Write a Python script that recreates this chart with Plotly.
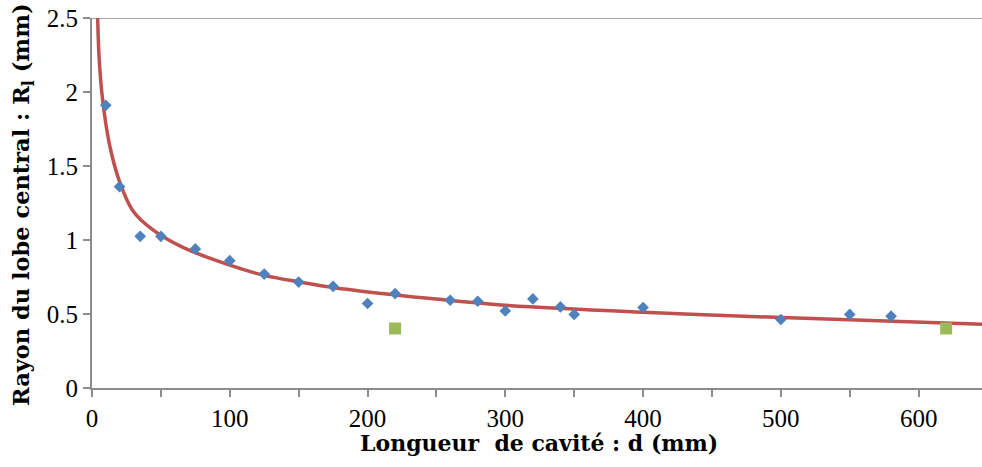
import plotly.graph_objects as go

# Measured points (blue diamonds)
d_mes = [10, 20, 35, 50, 75, 100, 125, 150, 175, 200, 220, 260, 280, 300, 320, 340, 350, 400, 500, 550, 580]
r_mes = [1.91, 1.36, 1.025, 1.025, 0.94, 0.86, 0.77, 0.716, 0.687, 0.571, 0.638, 0.593, 0.586, 0.521, 0.602, 0.548, 0.497, 0.544, 0.463, 0.497, 0.485]

# Second series (green squares)
d_sq = [220, 620]
r_sq = [0.402, 0.402]

# Fitted trend curve
d_fit = [4.1, 5.3, 7.8, 12.6, 19.8, 29.5, 44, 66, 100, 125, 151, 176, 222, 246, 297, 400, 501, 646]
r_fit = [2.50, 2.21, 1.94, 1.65, 1.40, 1.20, 1.07, 0.95, 0.83, 0.761, 0.716, 0.678, 0.627, 0.604, 0.561, 0.512, 0.476, 0.431]

x_ticks = [0, 100, 200, 300, 400, 500, 600]
y_ticks = [0, 0.5, 1, 1.5, 2, 2.5]
y_tick_text = ["0", "0.5", "1", "1.5", "2", "2.5"]

x_title = "<b>Longueur  de cavité : d (mm)</b>"
y_title = "<b>Rayon du lobe central : R<sub>l</sub> (mm)</b>"

axis_grey = "#8C8C8C"
fam = "Liberation Serif"
title_fam = "DejaVu Serif"

L, R, T, B = 92, 0, 18, 79
W, H = 982, 467
pw, ph = W - L - R, H - T - B

fig = go.Figure()
fig.add_trace(go.Scatter(x=d_fit, y=r_fit, mode="lines", line=dict(color="#C0504D", width=3.5, shape="spline", smoothing=1.0), showlegend=False))
fig.add_trace(go.Scatter(x=d_mes, y=r_mes, mode="markers", marker=dict(symbol="diamond", size=9, color="#4F81BD"), showlegend=False))
fig.add_trace(go.Scatter(x=d_sq, y=r_sq, mode="markers", marker=dict(symbol="square", size=12, color="#9BBB59"), showlegend=False))

fig.add_shape(type="line", xref="paper", yref="y", x0=0, x1=1, y0=2.5, y1=2.5, line=dict(color="#A6A6A6", width=2), layer="below")

fig.add_annotation(text=x_title, xref="paper", yref="paper", x=(539 - L) / pw, y=(H - B - 443) / ph,
                   xanchor="center", yanchor="middle", showarrow=False, font=dict(size=22, family=title_fam, color="black"))
fig.add_annotation(text=y_title, xref="paper", yref="paper", x=(23 - L) / pw, y=(H - B - 205) / ph,
                   xanchor="center", yanchor="middle", textangle=-90, showarrow=False, font=dict(size=22.5, family=title_fam, color="black"))

fig.update_layout(
    width=W, height=H,
    margin=dict(l=L, r=R, t=T, b=B, autoexpand=False),
    paper_bgcolor="white", plot_bgcolor="white",
    font=dict(family=fam, color="black"),
)
fig.update_xaxes(
    range=[0, 646], tickvals=x_ticks, ticks="outside", ticklen=7, tickwidth=2, tickcolor=axis_grey,
    minor=dict(dtick=50, tick0=0, ticks="outside", ticklen=7, tickwidth=2, tickcolor=axis_grey, showgrid=False),
    showline=True, linecolor=axis_grey, linewidth=2, showgrid=False, zeroline=False,
    tickfont=dict(size=25, family=fam, color="black"), automargin=False,
)
fig.update_yaxes(
    range=[0, 2.5], tickvals=y_ticks, ticktext=y_tick_text, ticks="outside", ticklen=7, tickwidth=2, tickcolor=axis_grey,
    showline=True, linecolor=axis_grey, linewidth=2, showgrid=False, zeroline=False,
    tickfont=dict(size=25, family=fam, color="black"), automargin=False,
)

fig.write_html("out.html", config={"displayModeBar": False},
               post_script="document.body.style.margin='0';document.body.style.padding='0';")
